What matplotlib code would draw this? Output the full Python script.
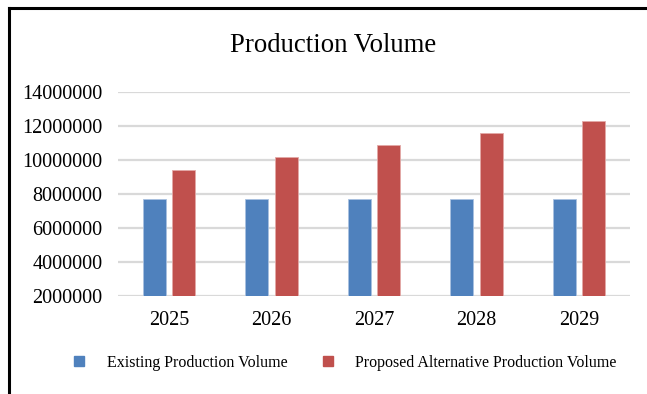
import matplotlib
matplotlib.use("Agg")
import matplotlib.pyplot as plt
from matplotlib.lines import Line2D
import numpy as np

plt.rcParams["font.family"] = ["Liberation Serif", "DejaVu Serif"]

YEARS = ["2025", "2026", "2027", "2028", "2029"]
EXISTING = [7700000, 7700000, 7700000, 7700000, 7700000]
PROPOSED = [9430000, 10160000, 10860000, 11590000, 12310000]
Y_TICKS = [2000000, 4000000, 6000000, 8000000, 10000000, 12000000, 14000000]

BLUE = "#4F81BD"
RED = "#C0504D"

W, H = 647, 394
fig = plt.figure(figsize=(W / 100, H / 100), dpi=100)

# frame: only the top and left edges fall inside the canvas
fig.add_artist(Line2D([9 / W, 9 / W], [0, 1 - 8 / H], color="black", lw=2.2,
                      transform=fig.transFigure))
fig.add_artist(Line2D([9 / W, 1], [1 - 8 / H, 1 - 8 / H], color="black", lw=2.2,
                      transform=fig.transFigure))

ax = fig.add_axes([118 / W, 1 - 296 / H, 512 / W, 204 / H])
x = np.arange(len(YEARS))
bw = 0.225
ax.bar(x - 0.143, np.array(EXISTING) - Y_TICKS[0], bw, bottom=Y_TICKS[0],
       color=BLUE, edgecolor="#A9C1E0", lw=0.6, zorder=3,
       label="Existing Production Volume")
ax.bar(x + 0.143, np.array(PROPOSED) - Y_TICKS[0], bw, bottom=Y_TICKS[0],
       color=RED, edgecolor="#E3A9A7", lw=0.6, zorder=3,
       label="Proposed Alternative Production Volume")

ax.set_xlim(-0.5, len(YEARS) - 0.5)
ax.set_ylim(Y_TICKS[0], Y_TICKS[-1])
ax.set_yticks(Y_TICKS)
ax.set_yticklabels([str(v) for v in Y_TICKS])
ax.set_xticks(x)
ax.set_xticklabels(YEARS)
ax.tick_params(axis="y", length=0, pad=11, labelsize=14.5)
ax.tick_params(axis="x", length=0, pad=11, labelsize=14.5)
ax.yaxis.grid(True, color="#D9D9D9", lw=1.6, zorder=0)
ax.set_axisbelow(True)
for s in ax.spines.values():
    s.set_visible(False)

fig.text(0.515, 1 - 45 / H, "Production Volume", ha="center", va="center",
         fontsize=19.3)

handles = [
    Line2D([], [], marker="s", ls="none", ms=7.5, color=BLUE),
    Line2D([], [], marker="s", ls="none", ms=7.5, color=RED),
]
fig.legend(handles, ["Existing Production Volume",
                     "Proposed Alternative Production Volume"],
           loc="center", bbox_to_anchor=(344 / W, 1 - 363 / H), ncol=2,
           frameon=False, fontsize=11.5, handlelength=1.0, handletextpad=1.2,
           columnspacing=2.05)

fig.savefig("out.png", dpi=100)
